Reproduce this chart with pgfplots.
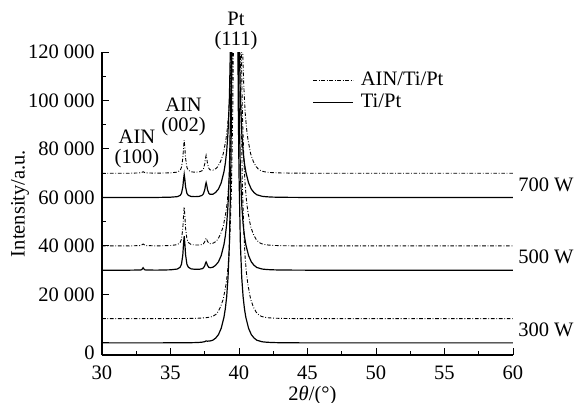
\documentclass[border=0pt]{standalone}
\usepackage{fontspec}
\setmainfont{Liberation Serif}
\usepackage{pgfplots}
\pgfplotsset{compat=1.18}
\begin{document}
\fontsize{10.3}{10}\selectfont
\begin{tikzpicture}
\begin{axis}[
 scale only axis, width=205.5bp, height=151.5bp,
 at={(0,0)}, anchor=south west,
 xmin=30, xmax=60, ymin=-5000, ymax=120000,
 axis x line*=bottom, axis y line*=left,
 axis line style={line width=0.6pt, black},
 xtick={30,35,40,45,50,55,60}, minor x tick num=1,
 xticklabels={30,35,40,45,50,55,60},
 xticklabel style={yshift=-2bp},
 ytick={0,20000,40000,60000,80000,100000,120000}, minor y tick num=1,
 yticklabels={\raisebox{-8.4bp}[0pt][0pt]{0},20\ 000,40\ 000,60\ 000,80\ 000,100\ 000,120\ 000},
 scaled y ticks=false, scaled x ticks=false,
 tick align=inside,
 major tick length=3.3pt, minor tick length=1.8pt,
 tick style={line width=0.5pt, black},
 xlabel={2\textit{θ}/(°)}, ylabel={Intensity/a.u.},
 xlabel style={at={(axis description cs:0.512,-0.134)}, anchor=center},
 ylabel style={at={(axis description cs:-0.1995,0.5)}, anchor=center},
 clip mode=individual,
 no markers,
 legend style={draw=none, fill=none, inner sep=0pt, outer sep=0pt,
   at={(axis description cs:0.513,0.8696)}, anchor=west,
   row sep=0pt, column sep=3pt,
   nodes={inner sep=0.5pt, text height=7.5pt, text depth=2.5pt}},
 legend cell align=left,
 legend image code/.code={\draw[#1] (0pt,0pt) -- (20pt,0pt);},
 dashdot/.style={black, line width=0.45pt, dash pattern=on 1.8pt off 0.9pt on 0.4pt off 0.9pt},
 solidl/.style={black, line width=0.6pt},
]
% 700 W AlN/Ti/Pt
\addplot[dashdot] coordinates {(30,70000)(31,70000)(32,70000)(32.8,70120)(32.9,70300)(33,70600)(33.1,70300)(33.2,70120)(34,70010)(35,70140)(35.5,70450)(35.7,71170)(35.8,72330)(35.9,76140)(35.95,80370)(36,83570)(36.05,80380)(36.1,76150)(36.2,72400)(36.3,71260)(36.5,70570)(36.8,70410)(37.1,70540)(37.3,71000)(37.4,71700)(37.5,73840)(37.55,75970)(37.6,77390)(37.65,76040)(37.7,73970)(37.8,71960)(37.9,71350)(38.1,71280)(38.3,71840)(38.45,72700)(38.65,74800)(38.85,78000)(39.05,84000)(39.15,88500)(39.25,95000)(39.35,106000)(39.45,124000)(39.55,158000)(39.6,188000)(39.65,235000)(39.75,450000)(39.85,770000)(39.95,450000)(40.05,235000)(40.1,188000)(40.15,158000)(40.25,124000)(40.35,106000)(40.45,95000)(40.55,88500)(40.65,84000)(40.85,78000)(41.05,74800)(41.25,72700)(41.45,71500)(41.65,70900)(41.85,70600)(42.15,70350)(42.55,70200)(43.05,70100)(43.85,70040)(45,70000)(50,70000)(55,70000)(60,70000)};
\addlegendentry{AIN/Ti/Pt}
% 700 W Ti/Pt
\addplot[solidl] coordinates {(30,60000)(31,60000)(32,60000)(33,60000)(34,60000)(35,60100)(35.5,60330)(35.7,60830)(35.8,61650)(35.9,64330)(35.95,67310)(36,69550)(36.05,67310)(36.1,64340)(36.2,61670)(36.3,60860)(36.5,60420)(36.8,60330)(37.1,60450)(37.3,60850)(37.4,61440)(37.5,63180)(37.55,64930)(37.6,66100)(37.65,64980)(37.7,63300)(37.8,61690)(37.9,61270)(38.1,61330)(38.3,62110)(38.5,63460)(38.7,66000)(38.9,70500)(39,74000)(39.1,79000)(39.2,87000)(39.3,101000)(39.4,130000)(39.45,157000)(39.5,200000)(39.6,410000)(39.7,760000)(39.8,410000)(39.9,200000)(39.95,157000)(40,130000)(40.1,101000)(40.2,87000)(40.3,79000)(40.4,74000)(40.5,70500)(40.7,66000)(40.9,63400)(41.1,62000)(41.3,61100)(41.7,60450)(42,60280)(42.4,60150)(42.9,60080)(43.7,60030)(45,60000)(50,60000)(55,60000)(60,60000)};
\addlegendentry{Ti/Pt}
% 500 W AlN/Ti/Pt
\addplot[dashdot, forget plot] coordinates {(30,40000)(31,40000)(32,40000)(32.8,40160)(32.9,40400)(33,40800)(33.1,40400)(33.2,40160)(34,40010)(35,40160)(35.5,40525)(35.7,41380)(35.8,42745)(35.9,47260)(35.95,52285)(36,56065)(36.05,52290)(36.1,47270)(36.2,42790)(36.3,41440)(36.5,40600)(36.8,40380)(37.1,40380)(37.3,40580)(37.4,40860)(37.5,41740)(37.55,42610)(37.6,43190)(37.65,42680)(37.7,41870)(37.8,41120)(37.9,40930)(38.1,41110)(38.3,41760)(38.45,42700)(38.65,44800)(38.85,48000)(39.05,54000)(39.15,58500)(39.25,65000)(39.35,76000)(39.45,94000)(39.55,128000)(39.6,158000)(39.65,205000)(39.75,420000)(39.85,740000)(39.95,420000)(40.05,205000)(40.1,158000)(40.15,128000)(40.25,94000)(40.35,76000)(40.45,65000)(40.55,58500)(40.65,54000)(40.85,48000)(41.05,44800)(41.25,42700)(41.45,41500)(41.65,40900)(41.85,40600)(42.15,40350)(42.55,40200)(43.05,40100)(43.85,40040)(45,40000)(50,40000)(55,40000)(60,40000)};
% 500 W Ti/Pt
\addplot[solidl, forget plot] coordinates {(30,30000)(31,30000)(32,30000)(32.8,30060)(32.9,30200)(33,31000)(33.1,30200)(33.2,30060)(34,30010)(35,30140)(35.5,30460)(35.7,31200)(35.8,32400)(35.9,36350)(35.95,40750)(36,44050)(36.05,40760)(36.1,36360)(36.2,32420)(36.3,31230)(36.5,30530)(36.8,30350)(37.1,30360)(37.3,30590)(37.4,30900)(37.5,31830)(37.55,32770)(37.6,33400)(37.65,32820)(37.7,31950)(37.8,31150)(37.9,31000)(38.1,31220)(38.3,32060)(38.5,33430)(38.7,36000)(38.9,40500)(39,44000)(39.1,49000)(39.2,57000)(39.3,71000)(39.4,100000)(39.45,127000)(39.5,170000)(39.6,380000)(39.7,730000)(39.8,380000)(39.9,170000)(39.95,127000)(40,100000)(40.1,71000)(40.2,57000)(40.3,49000)(40.4,44000)(40.5,40500)(40.7,36000)(40.9,33400)(41.1,32000)(41.3,31100)(41.7,30450)(42,30280)(42.4,30150)(42.9,30080)(43.7,30030)(45,30000)(50,30000)(55,30000)(60,30000)};
% 300 W AlN/Ti/Pt
\addplot[dashdot, forget plot] coordinates {(30,10000)(34,10010)(35,10030)(36,10065)(36.5,10090)(37,10170)(37.3,10260)(37.6,10390)(37.9,10650)(38.1,11000)(38.3,11700)(38.45,12700)(38.65,14800)(38.85,18000)(39.05,24000)(39.15,28500)(39.25,35000)(39.35,46000)(39.45,64000)(39.55,98000)(39.6,128000)(39.65,175000)(39.75,390000)(39.85,710000)(39.95,390000)(40.05,175000)(40.1,128000)(40.15,98000)(40.25,64000)(40.35,46000)(40.45,35000)(40.55,28500)(40.65,24000)(40.85,18000)(41.05,14800)(41.25,12700)(41.45,11500)(41.65,10900)(41.85,10600)(42.15,10350)(42.55,10200)(43.05,10100)(43.85,10040)(45,10000)(50,10000)(55,10000)(60,10000)};
% 300 W Ti/Pt
\addplot[solidl, forget plot] coordinates {(30,0)(34,0)(35,30)(36,60)(36.5,80)(37,150)(37.3,300)(37.5,500)(37.6,800)(37.7,700)(37.9,800)(38.1,1150)(38.3,2000)(38.5,3400)(38.7,6000)(38.9,10500)(39,14000)(39.1,19000)(39.2,27000)(39.3,41000)(39.4,70000)(39.45,97000)(39.5,140000)(39.6,350000)(39.7,700000)(39.8,350000)(39.9,140000)(39.95,97000)(40,70000)(40.1,41000)(40.2,27000)(40.3,19000)(40.4,14000)(40.5,10500)(40.7,6000)(40.9,3400)(41.1,2000)(41.3,1100)(41.7,450)(42,280)(42.4,150)(42.9,80)(43.7,30)(45,0)(50,0)(55,0)(60,0)};
% annotations
\node[align=center, inner sep=0pt] at (axis cs:39.78,128700) {Pt\\(111)};
\node[align=center, inner sep=0pt] at (axis cs:35.95,93200) {AIN\\(002)};
\node[align=center, inner sep=0pt] at (axis cs:32.55,80000) {AIN\\(100)};
\node[anchor=west, inner sep=0pt] at (axis cs:60.36,65100) {700 W};
\node[anchor=west, inner sep=0pt] at (axis cs:60.36,35640) {500 W};
\node[anchor=west, inner sep=0pt] at (axis cs:60.36,5520) {300 W};
\end{axis}
\pgfresetboundingbox
\path[use as bounding box] (-51bp,-24bp) rectangle (237bp,177.5bp);
\end{tikzpicture}
\end{document}
